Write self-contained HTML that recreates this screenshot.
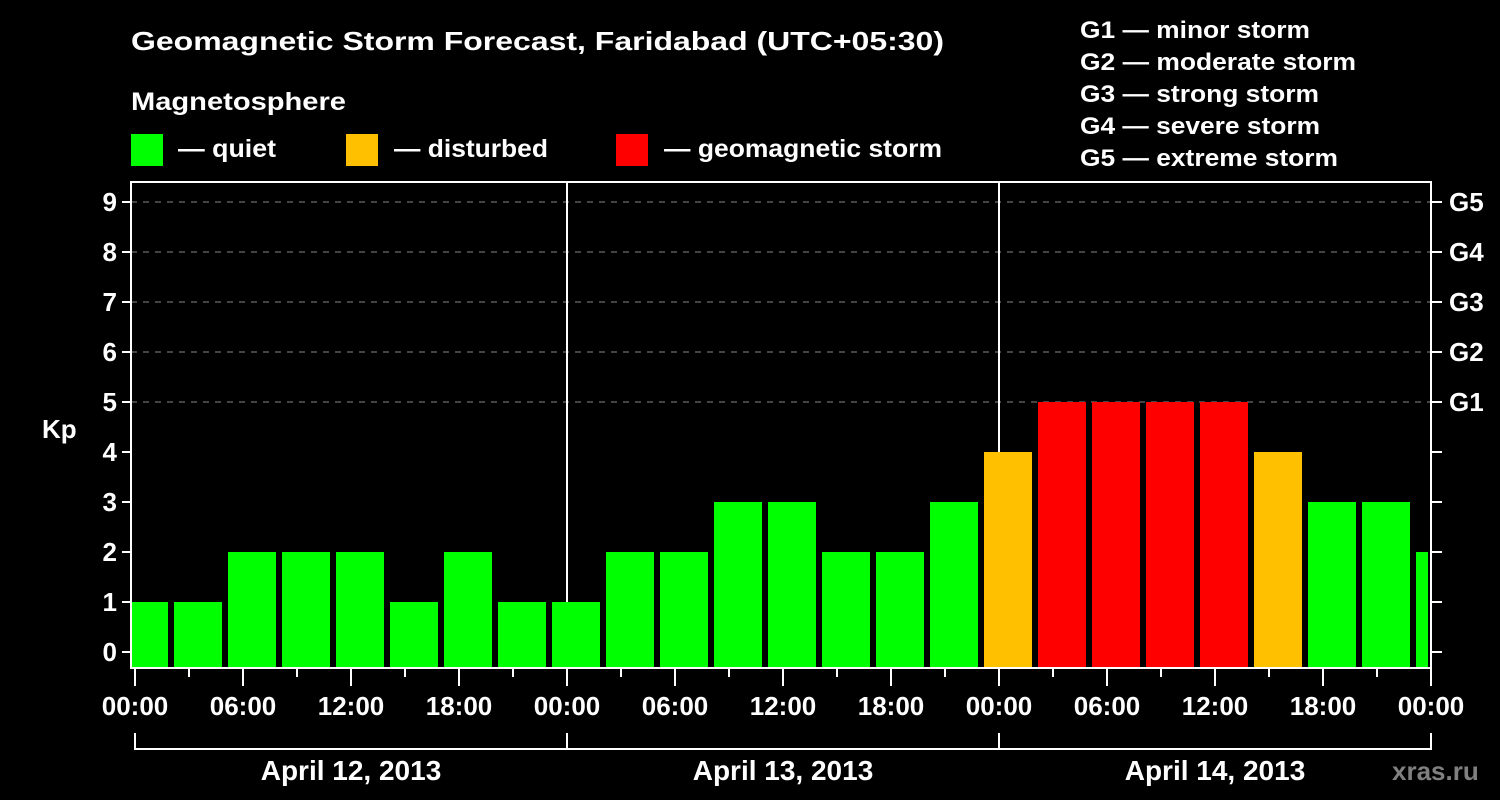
<!DOCTYPE html>
<html><head><meta charset="utf-8"><style>
html,body{margin:0;padding:0;background:#000;}
svg{display:block;font-family:"Liberation Sans",Arial,sans-serif;font-weight:bold;}
</style></head><body>
<svg id="chart" width="1500" height="800" viewBox="0 0 1500 800" xmlns="http://www.w3.org/2000/svg">
<rect width="1500" height="800" fill="#000"/>
<text x="131" y="50" fill="#fff" font-size="26" textLength="813" lengthAdjust="spacingAndGlyphs">Geomagnetic Storm Forecast, Faridabad (UTC+05:30)</text>
<text x="131" y="110" fill="#fff" font-size="25" textLength="215" lengthAdjust="spacingAndGlyphs">Magnetosphere</text>
<rect x="131" y="134" width="32" height="32" fill="#00ff00"/>
<text x="178" y="157" fill="#fff" font-size="25" textLength="98" lengthAdjust="spacingAndGlyphs">— quiet</text>
<rect x="346" y="134" width="32" height="32" fill="#ffc000"/>
<text x="394" y="157" fill="#fff" font-size="25" textLength="154" lengthAdjust="spacingAndGlyphs">— disturbed</text>
<rect x="616" y="134" width="32" height="32" fill="#ff0000"/>
<text x="664" y="157" fill="#fff" font-size="25" textLength="278" lengthAdjust="spacingAndGlyphs">— geomagnetic storm</text>
<g fill="#fff" font-size="24">
<text x="1080" y="38" textLength="230" lengthAdjust="spacingAndGlyphs">G1 — minor storm</text>
<text x="1080" y="70" textLength="276" lengthAdjust="spacingAndGlyphs">G2 — moderate storm</text>
<text x="1080" y="102" textLength="239" lengthAdjust="spacingAndGlyphs">G3 — strong storm</text>
<text x="1080" y="134" textLength="240" lengthAdjust="spacingAndGlyphs">G4 — severe storm</text>
<text x="1080" y="166" textLength="258" lengthAdjust="spacingAndGlyphs">G5 — extreme storm</text>
</g>
<text x="42" y="438" fill="#fff" font-size="26">Kp</text>
<text x="1392" y="780" fill="#808080" font-size="26">xras.ru</text>
<g id="plot"></g>
</svg>
<script>
const kpValues = [1,1,2,2,2,1,2,1,1, 2,2,3,3,2,2,3, 4,5,5,5,5,4,3,3,2];
const yTicks = [0,1,2,3,4,5,6,7,8,9];
const gLabels = ["G1","G2","G3","G4","G5"];
const hourLabels = ["00:00","06:00","12:00","18:00","00:00","06:00","12:00","18:00","00:00","06:00","12:00","18:00","00:00"];
const dateLabels = ["April 12, 2013","April 13, 2013","April 14, 2013"];
const firstSlotHour = -1;

const NS = "http://www.w3.org/2000/svg";
const L = 131, R = 1431, T = 182, B = 668, X0 = 135, PXH = 18;
const yS = v => 652 - 50 * v;
const xS = h => X0 + PXH * h;
const g = document.getElementById('plot');
function mk(tag, attrs, parent) {
  const e = document.createElementNS(NS, tag);
  for (const k in attrs) e.setAttribute(k, attrs[k]);
  (parent || g).appendChild(e);
  return e;
}
const defs = mk('defs', {});
const cp = mk('clipPath', {id: 'clipPlot'}, defs);
mk('rect', {x: 132, y: T, width: R - 1 - 132 - 2, height: B - T}, cp);

// gridlines for Kp 5..9
yTicks.forEach(v => {
  if (v >= 5) {
    const ln = mk('line', {x1: L, x2: R, y1: yS(v), y2: yS(v), stroke: '#888', 'stroke-width': 1, 'stroke-dasharray': '6,6'});
    
    
  }
});
// day separators
for (let d = 1; d < 3; d++) {
  const ln = mk('line', {x1: xS(24 * d), x2: xS(24 * d), y1: T, y2: B, stroke: '#fff', 'stroke-width': 2});
  
  
}
// bars
const bars = mk('g', {'clip-path': 'url(#clipPlot)'});
kpValues.forEach((v, k) => {
  const h0 = firstSlotHour + 3 * k;
  const x = xS(h0) + 3;
  const col = v >= 5 ? '#ff0000' : (v === 4 ? '#ffc000' : '#00ff00');
  const r = mk('rect', {x: x, y: yS(v), width: 48, height: B - yS(v), fill: col}, bars);
  
  
});
// frame
const fr = mk('rect', {x: L, y: T, width: R - L, height: B - T, fill: 'none', stroke: '#fff', 'stroke-width': 2});


// y ticks and labels
yTicks.forEach(v => {
  mk('line', {x1: 122, x2: L, y1: yS(v), y2: yS(v), stroke: '#fff', 'stroke-width': 2});
  mk('line', {x1: R, x2: 1442, y1: yS(v), y2: yS(v), stroke: '#fff', 'stroke-width': 2});
  const t = mk('text', {x: 117, y: yS(v) + 9, fill: '#fff', 'font-size': 26, 'text-anchor': 'end'});
  t.textContent = v;
  
  
});
gLabels.forEach((s, i) => {
  const t = mk('text', {x: 1449, y: yS(5 + i) + 9, fill: '#fff', 'font-size': 26});
  t.textContent = s;
  
  
});
// x ticks
for (let h = 0; h <= 72; h += 3) {
  const long = h % 6 === 0;
  mk('line', {x1: xS(h), x2: xS(h), y1: B, y2: long ? 686 : 677, stroke: '#fff', 'stroke-width': 2});
}
hourLabels.forEach((s, i) => {
  const t = mk('text', {x: xS(6 * i), y: 715, fill: '#fff', 'font-size': 26, 'text-anchor': 'middle'});
  t.textContent = s;
  
  
});
// date brackets
dateLabels.forEach((s, d) => {
  const a = xS(24 * d), b = xS(24 * (d + 1));
  mk('path', {d: `M${a} 733 V749 H${b} V733`, stroke: '#fff', 'stroke-width': 2, fill: 'none'});
  const t = mk('text', {x: (a + b) / 2, y: 780, fill: '#fff', 'font-size': 28, 'text-anchor': 'middle'});
  t.textContent = s;
  
  
});
</script>
</body></html>
